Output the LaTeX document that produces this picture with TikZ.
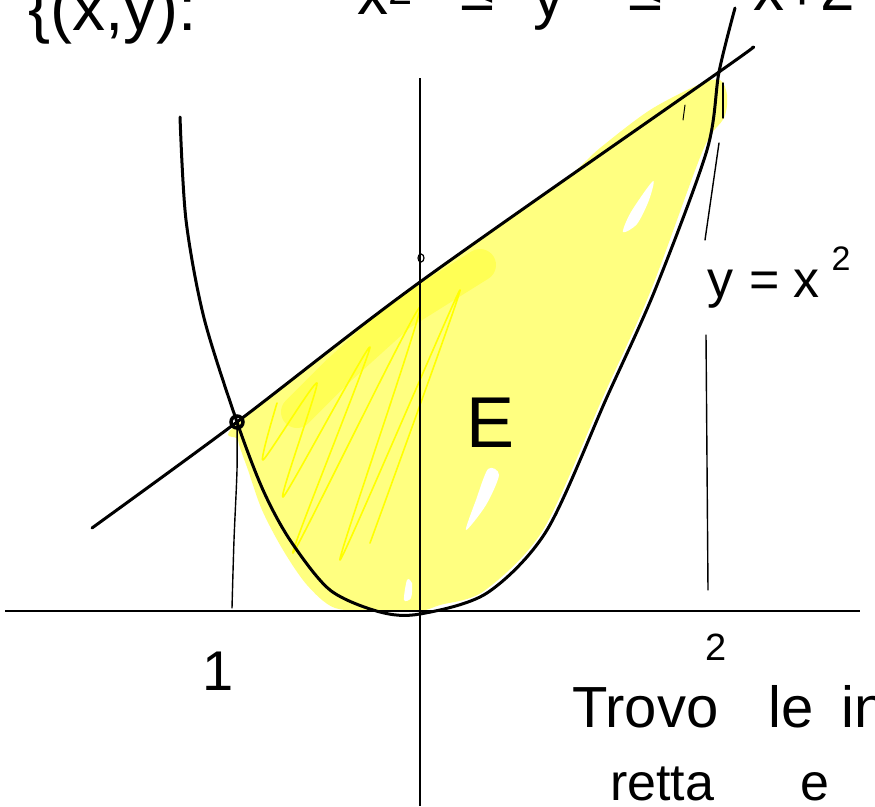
\documentclass[tikz,border=0pt]{standalone}
\usepackage{fontspec}
\setmainfont{Liberation Sans}
\definecolor{ink}{HTML}{000000}
\definecolor{hlpale}{HTML}{FFFF80}
\definecolor{hlmid}{HTML}{FFFF55}
\definecolor{hlbright}{HTML}{FFFF00}

\begin{document}
\begin{tikzpicture}[
  x=1pt, y=-1pt,
  axis/.style={draw=ink, line width=1.4pt},
  curve/.style={draw=ink, line width=3pt, line cap=round, line join=round},
  guide/.style={draw=ink, line width=1.4pt, line cap=round},
  hand/.style={text=ink, inner sep=0pt, anchor=base west, font=\fontsize{#1}{#1}\selectfont},
  scrib/.style={draw=hlbright, line width=1.6pt, line cap=round, line join=round},
  band/.style={draw=hlmid, line width=32pt, line cap=round, line join=round},
  gap/.style={fill=white},
]
\useasboundingbox (0,0) rectangle (875,806);
\clip (0,0) rectangle (875,806);
% key points
\coordinate (O) at (420,611);
\coordinate (pA) at (237,422);
\coordinate (pB) at (719,72);
\coordinate (yint) at (421,258);
\coordinate (xl) at (5,611);
\coordinate (xr) at (860,611);
\coordinate (yt) at (420,78);
\coordinate (yb) at (420,806);
% highlighted region E
\fill[hlpale] plot[smooth cycle] coordinates {(240,421) (420,283) (560,183) (600,148) (650,110) (700,84) (720,80) (727,95) (724,118) (703,150) (651,290) (603,397) (543,530) (484,591) (440,605) (420,611) (380,611) (335,608) (307,585) (283,550) (262,510) (248,470) (238,440)};
\draw[band] (297,412) -- (337,372) -- (400,315) -- (480,265);
\fill[gap] plot[smooth cycle] coordinates {(488,469) (499,475) (486,505) (466,530) (476,500)};
\fill[gap] plot[smooth cycle] coordinates {(653,181) (649,200) (637,224) (623,232) (631,212)};
\fill[gap] plot[smooth cycle] coordinates {(407,580) (412,583) (411,598) (404,600)};
\draw[scrib] plot[smooth, tension=0.35] coordinates {(277,403) (263,460) (317,383) (283,497) (370,347) (293,553) (420,307) (340,560) (460,290) (370,543)};
% axes
\draw[axis] (xl) -- (xr);
\draw[axis] (yt) -- (yb);
% parabola and line
\draw[curve] plot[smooth] coordinates {(180,117) (186,220) (204,318) (pA) (263,490) (290,540) (330,590) (380,612) (420,614) (487,593) (547,530) (607,397) (655,290) (707,150) (pB) (735,8)};
\draw[curve] plot[smooth] coordinates {(92,528) (pA) (420,282) (pB) (752,48)};
% marked points
\draw[ink, line width=3.5pt] (pA) circle[radius=6pt];
\draw[ink, line width=1.2pt] (yint) circle[x radius=3pt, y radius=4pt];
% vertical guides
\draw[guide] plot[smooth] coordinates {(pA) (237,470) (234,540) (232,608)};
\draw[guide] (723,83) -- (723,118);
\draw[guide] (719,143) -- (705,240);
\draw[guide] (706,335) -- (708,590);
\draw[guide, line width=1pt] (685,105) -- (683,120);
% labels
\node[hand=66] (setdef) at (28,30) {\{(x,y):};
\node[hand=62] (lhs) at (357,14) {x\textsuperscript{2}};
\node[hand=62] (le1) at (460,10) {≤};
\node[hand=62] (yvar) at (533,17) {y};
\node[hand=62] (le2) at (628,10) {≤};
\node[hand=62] (rhs) at (753,10) {x+2};
\node[hand=72, anchor=base] (elab) at (491,447) {E};
\node[hand=52] (curvelab) at (707,297) {y\hspace{16pt}=\hspace{14pt}x\hspace{12pt}\raisebox{27pt}{\fontsize{34}{34}\selectfont 2}};
\node[hand=56, anchor=base] (tickA) at (218,690) {1};
\node[hand=38, anchor=base] (tickB) at (716,660) {2};
\node[hand=58] (note1) at (572,727) {Trovo\hspace{50pt}le\hspace{28pt}in};
\node[hand=52] (note2) at (610,800) {retta\hspace{86pt}e};
\end{tikzpicture}
\end{document}
